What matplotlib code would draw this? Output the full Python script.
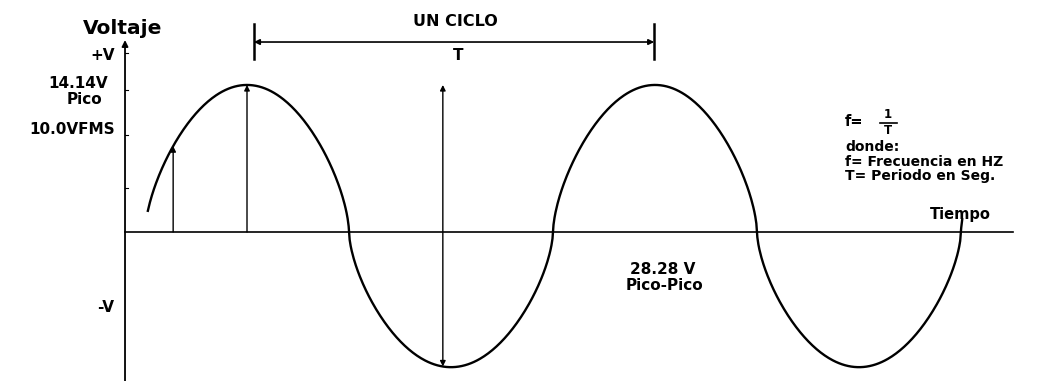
import numpy as np
import matplotlib.pyplot as plt

# Valores
periodo = 1.0            # T (un ciclo)
v_pico = 14.14           # semiciclo positivo
v_pico_neg = 13.0        # semiciclo negativo, tal como está dibujado
forma = 0.62             # lóbulos más redondeados que un seno puro
t_inicio = 0.007
t_fin = 2.003

t_flecha_rms = 0.069
t_flecha_pico = 0.25
t_flecha_pp = 0.73
t_ciclo = [0.267, 1.248]
marcas_y = [17.2, 13.7, 9.3, 4.2]

W, H = 1057, 381
plt.rcParams['font.family'] = ['DejaVu Sans']


def onda(t):
    s = np.sin(2 * np.pi * t / periodo)
    amp = np.where(s >= 0, v_pico, v_pico_neg)
    return np.sign(s) * np.abs(s) ** forma * amp


def px(x, y):
    return x / W, 1 - y / H


fig = plt.figure(figsize=(W / 100, H / 100), dpi=100)
ax = fig.add_axes([0, 0, 1, 1])
ax.set_xlim(-0.3554, 2.2353)
ax.set_ylim(-14.33, 22.31)
ax.axis('off')

# ejes
ax.plot([-0.049, 2.127], [0, 0], color='black', lw=1.2)
ax.annotate('', xy=(-0.049, 18.46), xytext=(-0.049, -14.33),
            arrowprops=dict(arrowstyle='-|>', color='black', lw=1.3,
                            mutation_scale=9, shrinkA=0, shrinkB=0))
for v in marcas_y:
    ax.plot([-0.049, -0.042], [v, v], color='black', lw=0.8)

# onda
t = np.linspace(t_inicio, t_fin, 800)
ax.plot(t, onda(t), color='black', lw=1.7)

# flechas verticales
flecha = dict(arrowstyle='-|>', color='black', lw=1.0, mutation_scale=8,
              shrinkA=0, shrinkB=0)
for tf in [t_flecha_rms, t_flecha_pico]:
    ax.annotate('', xy=(tf, float(onda(tf))), xytext=(tf, 0), arrowprops=flecha)
ax.annotate('', xy=(t_flecha_pp, v_pico), xytext=(t_flecha_pp, float(onda(t_flecha_pp))),
            arrowprops=dict(flecha, arrowstyle='<|-|>'))

# cota de un ciclo
y_cota = (232 - 42) / 10.4
ax.annotate('', xy=(t_ciclo[1], y_cota), xytext=(t_ciclo[0], y_cota),
            arrowprops=dict(flecha, arrowstyle='<|-|>', lw=1.2))
for tc in t_ciclo:
    ax.plot([tc, tc], [(232 - 24) / 10.4, (232 - 59) / 10.4], color='black', lw=1.8)

# textos
negrita = dict(fontweight='bold', color='black', va='center')
fig.text(*px(123, 29), 'Voltaje', ha='center', fontsize=14.5, **negrita)
fig.text(*px(115, 56), '+V', ha='right', fontsize=11, **negrita)
fig.text(*px(78, 83), '14.14V', ha='center', fontsize=11, **negrita)
fig.text(*px(84, 100), 'Pico', ha='center', fontsize=11, **negrita)
fig.text(*px(115, 130), '10.0VFMS', ha='right', fontsize=11, **negrita)
fig.text(*px(114, 307), '-V', ha='right', fontsize=11, **negrita)
fig.text(*px(455, 21), 'UN CICLO', ha='center', fontsize=11.5, **negrita)
fig.text(*px(458, 55), 'T', ha='center', fontsize=11, **negrita)

fig.text(*px(845, 122), 'f=', ha='left', fontsize=10.5, **negrita)
fig.text(*px(888, 115), '1', ha='center', fontsize=8.5, **negrita)
fig.text(*px(888, 131), 'T', ha='center', fontsize=8.5, **negrita)
fig.lines.append(plt.Line2D([880 / W, 897 / W], [1 - 122.5 / H, 1 - 122.5 / H],
                            transform=fig.transFigure, color='black', lw=1.2))
fig.text(*px(845, 147), 'donde:', ha='left', fontsize=10, **negrita)
fig.text(*px(845, 162), 'f= Frecuencia en HZ', ha='left', fontsize=10, **negrita)
fig.text(*px(845, 176), 'T= Periodo en Seg.', ha='left', fontsize=10, **negrita)
fig.text(*px(960, 214), 'Tiempo', ha='center', fontsize=10.5, **negrita)

fig.text(*px(663, 269), '28.28 V', ha='center', fontsize=11, **negrita)
fig.text(*px(664, 286), 'Pico-Pico', ha='center', fontsize=11, **negrita)

fig.savefig('out.png', dpi=100, facecolor='white')
